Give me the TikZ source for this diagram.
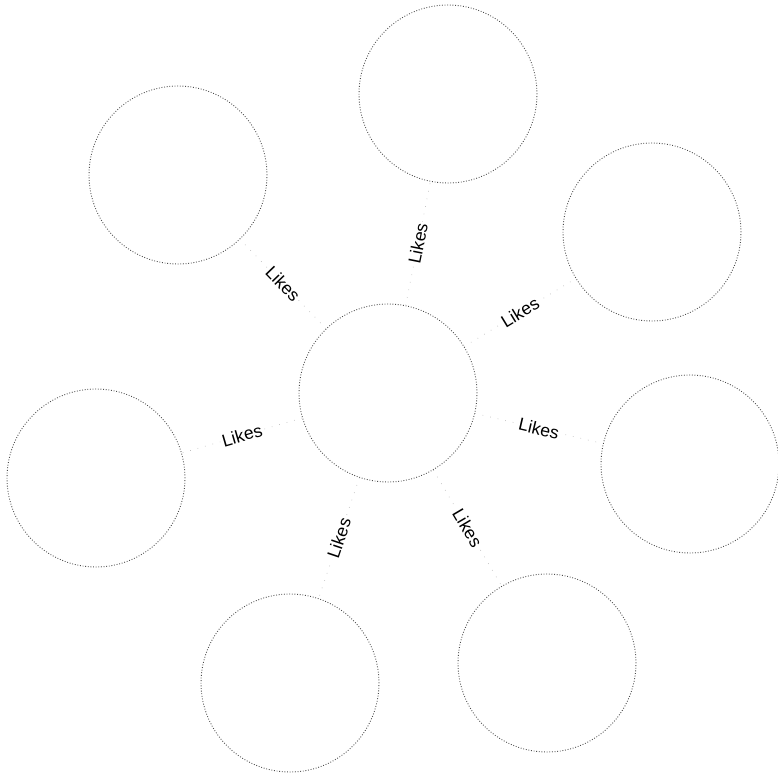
\documentclass[tikz,border=0pt]{standalone}
\usepackage{fontspec}
\setmainfont{Liberation Sans}
\usetikzlibrary{positioning}

\begin{document}
\begin{tikzpicture}[
  x=0.02cm,y=-0.02cm,
  p/.style={circle,draw=black!70,densely dotted,line width=0.5pt,minimum size=3.56cm,inner sep=0pt},
  l/.style={fill=white,inner sep=1pt,font=\fontsize{10}{12}\selectfont,sloped},
  e/.style={draw=black!25,loosely dotted,line width=0.4pt}
]
  \useasboundingbox (0,0) rectangle (778,777);
  % the centre and its friends
  \node[p] (me) at (388,393) {};
  \node[p] (top) at (448,94) {};
  \node[p] (topleft) at (178,175) {};
  \node[p] (upright) at (652,232) {};
  \node[p] (lowright) at (690,464) {};
  \node[p] (left) at (96,478) {};
  \node[p] (botleft) at (290,683) {};
  \node[p] (botright) at (547,663) {};
  \foreach \y in {top,topleft,upright,lowright,left,botleft,botright}
    {\draw[e] (me) -- node[l] {Likes} (\y);}
\end{tikzpicture}
\end{document}
